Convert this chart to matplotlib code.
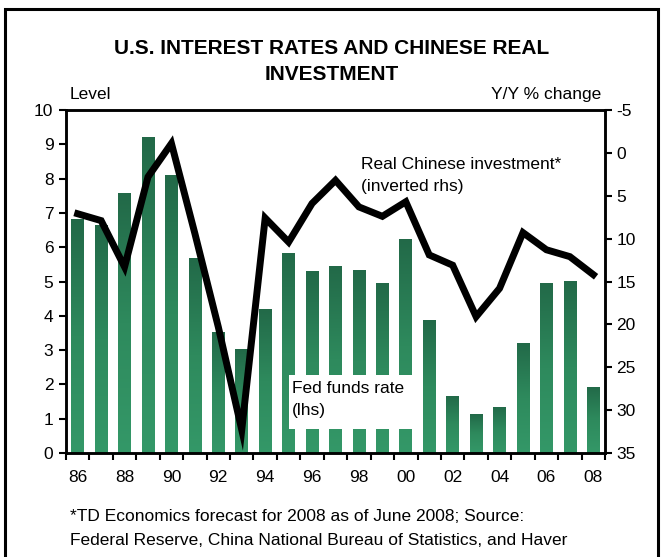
import matplotlib
matplotlib.use("Agg")
import matplotlib.pyplot as plt
import numpy as np
from matplotlib.colors import LinearSegmentedColormap
from matplotlib.patches import Rectangle

plt.rcParams['font.family'] = ['Liberation Sans', 'DejaVu Sans']
plt.rcParams['axes.unicode_minus'] = False

years = ['86', '87', '88', '89', '90', '91', '92', '93', '94', '95', '96', '97',
         '98', '99', '00', '01', '02', '03', '04', '05', '06', '07', '08']
fed_funds = [6.81, 6.66, 7.57, 9.21, 8.10, 5.69, 3.52, 3.02, 4.21, 5.83, 5.30, 5.46,
             5.35, 4.97, 6.24, 3.89, 1.67, 1.13, 1.35, 3.22, 4.97, 5.02, 1.93]
china_inv = [7.1, 7.9, 13.3, 2.8, -1.1, 9.4, 20.3, 32.3, 7.6, 10.4, 5.9, 3.2,
             6.3, 7.4, 5.7, 11.9, 13.1, 19.1, 15.8, 9.3, 11.3, 12.1, 14.2]

fs = 12.5

fig = plt.figure(figsize=(6.65, 5.57), dpi=100)
ax = fig.add_axes([0.0992, 0.1867, 0.8106, 0.6158])

x = np.arange(len(years))
bw = 0.54
bars = ax.bar(x, fed_funds, width=bw, color='none', edgecolor='none', zorder=2)

# dark green at top fading to lighter green at the bottom of each bar
cmap = LinearSegmentedColormap.from_list('g', ['#349868', '#2E8A5D', '#226948'])
grad = np.linspace(0, 1, 256).reshape(-1, 1)
for b, v in zip(bars, fed_funds):
    x0 = b.get_x()
    im = ax.imshow(grad, extent=(x0, x0 + bw, 0, v), origin='lower', cmap=cmap,
                   aspect='auto', zorder=2)
    im.set_clip_path(b)

ax.set_xlim(-0.5, len(years) - 0.5)
ax.set_ylim(0, 10)
ax.set_yticks(range(0, 11))
ax.set_xticks(np.arange(-0.5, len(years), 1.0))
ax.set_xticklabels([])
ax.set_xticks(x[::2], minor=True)
ax.set_xticklabels(years[::2], minor=True)
ax.tick_params(axis='x', which='minor', length=0, pad=12, labelsize=fs)
ax.tick_params(axis='x', which='major', direction='out', length=5, width=1.5)
ax.tick_params(axis='y', direction='out', length=5, width=1.5, labelsize=fs, pad=4)
for s in ax.spines.values():
    s.set_linewidth(1.8)

ax2 = ax.twinx()
ax2.plot(x, china_inv, color='black', lw=5, solid_joinstyle='miter', zorder=3)
ax2.set_ylim(35, -5)
ax2.set_yticks(range(-5, 36, 5))
ax2.tick_params(axis='y', direction='out', length=5, width=1.5, labelsize=fs, pad=3)
for s in ax2.spines.values():
    s.set_linewidth(1.8)

# white label box over the bars
ax.add_patch(Rectangle((9.02, 0.70), 5.5, 1.57, facecolor='white', edgecolor='none', zorder=4))
ax.text(9.15, 2.1, 'Fed funds rate\n(lhs)', fontsize=fs, linespacing=1.55,
        va='top', ha='left', zorder=5)
ax2.text(12.09, 0.5, 'Real Chinese investment*\n(inverted rhs)', fontsize=fs,
         linespacing=1.55, va='top', ha='left')

fig.text(0.4985, 1 - 54 / 557, 'U.S. INTEREST RATES AND CHINESE REAL',
         ha='center', va='baseline', fontsize=15, fontweight='bold')
fig.text(0.4985, 1 - 80 / 557, 'INVESTMENT',
         ha='center', va='baseline', fontsize=15, fontweight='bold')
fig.text(70 / 665, 1 - 99 / 557, 'Level', fontsize=fs, ha='left', va='baseline')
fig.text(601 / 665, 1 - 99 / 557, 'Y/Y % change', fontsize=fs, ha='right', va='baseline')
fig.text(70 / 665, 1 - 521 / 557, '*TD Economics forecast for 2008 as of June 2008; Source:',
         fontsize=fs, ha='left', va='baseline')
fig.text(70 / 665, 1 - 545 / 557, 'Federal Reserve, China National Bureau of Statistics, and Haver',
         fontsize=fs, ha='left', va='baseline')

fig.patches.append(Rectangle((0.0068, -0.02), 0.9827, 1.004, transform=fig.transFigure,
                             fill=False, edgecolor='black', lw=2.2))

fig.savefig('out.png', dpi=100)
